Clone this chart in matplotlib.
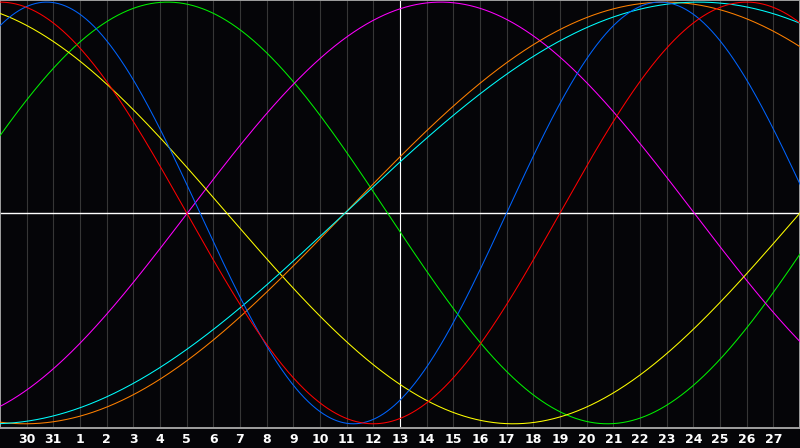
import numpy as np
import matplotlib
matplotlib.use("Agg")
import matplotlib.pyplot as plt

# day labels along the bottom (one column per day, first and last unlabeled)
day_labels = [29, 30, 31] + list(range(1, 29))
today_label = 13

# biorhythm cycles: length in days and column where each cycle starts (upward zero crossing)
cycle_names = ["physical", "emotional", "intellectual", "intuitive", "aesthetic", "awareness", "spiritual"]
cycle_length = [23, 28, 33, 38, 43, 48, 53]
cycle_start = [19.0, 21.0, -1.97, 7.03, 30.0, 12.94, 12.94]
cycle_color = ["#0064ff", "#ff0000", "#00f000", "#ff00ff", "#ffff00", "#ff8000", "#00ffff"]

n = len(day_labels) - 1
t = np.linspace(0, n, 1200)

fig = plt.figure(figsize=(8, 4.48), dpi=100, facecolor="#050508")
ax = fig.add_axes([0, 20 / 448, 1, 428 / 448])
ax.set_facecolor("#050508")

# vertical day grid
for k in range(1, n):
    ax.axvline(k, color="#363636", lw=0.8, zorder=1)

today = day_labels.index(today_label)
ax.axvline(today, color="white", lw=0.8, zorder=2)
ax.axhline(0, color="white", lw=1.0, zorder=2)

order = [2, 3, 4, 5, 6, 0, 1]
for j in order:
    y = np.sin(2 * np.pi * (t - cycle_start[j]) / cycle_length[j])
    ax.plot(t, y, color=cycle_color[j], lw=0.75, zorder=3)

ax.set_xlim(0, n)
ax.set_ylim(-1.02, 1.01)
ax.set_xticks([])
ax.set_yticks([])
for s in ax.spines.values():
    s.set_color("#a0a0a0")
    s.set_linewidth(1.4)

for k in range(1, n):
    fig.text(k / n, 9 / 448, str(day_labels[k]), color="white", fontsize=9,
             fontweight="bold", ha="center", va="center", family="DejaVu Sans")

fig.savefig("out.png", dpi=100, facecolor=fig.get_facecolor())
